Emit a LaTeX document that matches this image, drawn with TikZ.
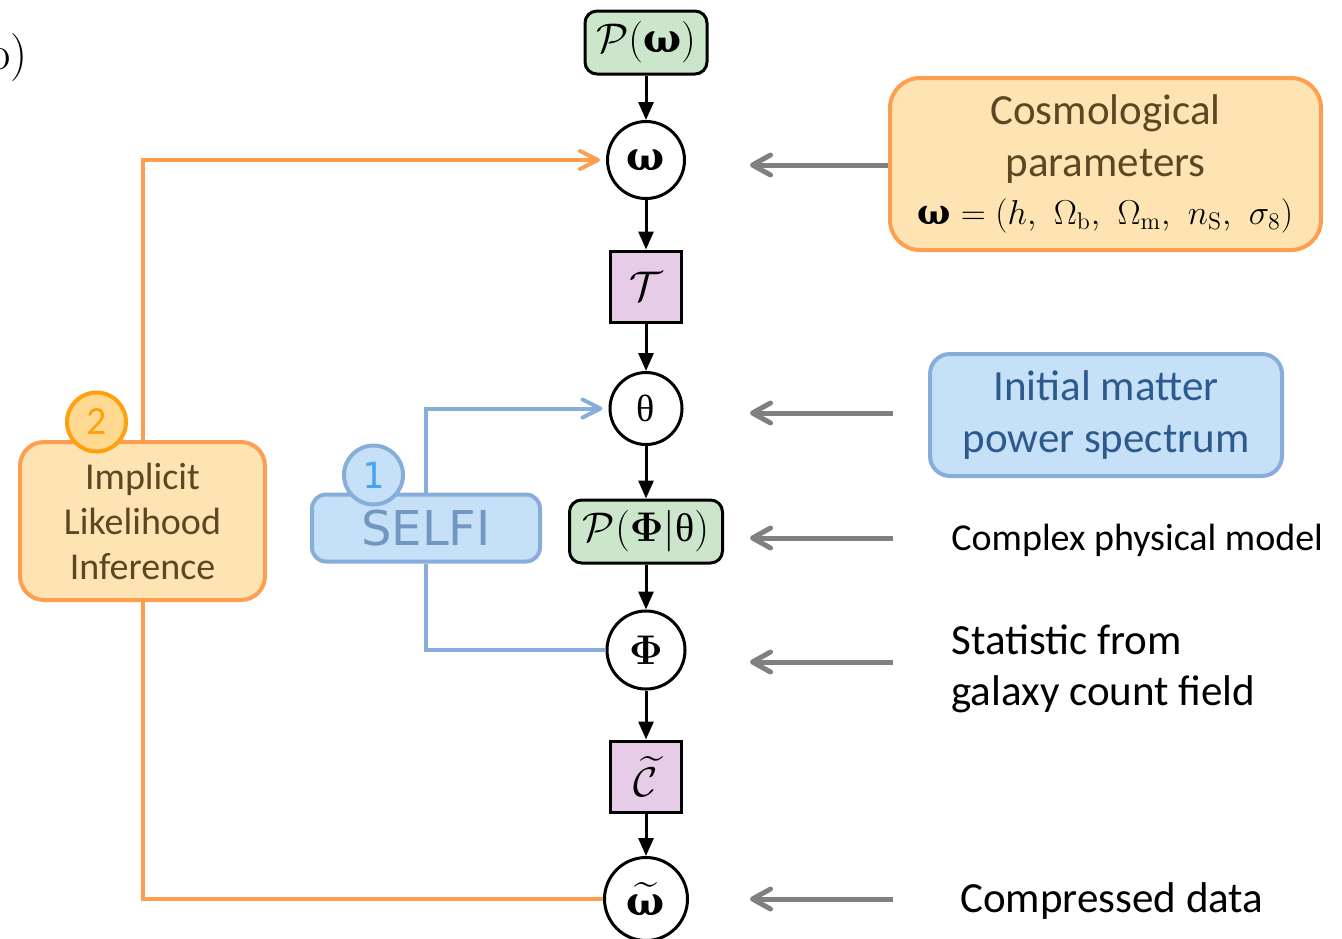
\documentclass[tikz,border=0pt]{standalone}
\usepackage{amsmath}
\usepackage[no-math]{fontspec}
\newfontfamily\cb{Carlito}
\newfontfamily\grk{Liberation Serif}
\newfontfamily\grkb{DejaVu Serif}
\newfontfamily\dvs{DejaVu Sans}
\newfontfamily\dvm{DejaVu Sans Mono}
\usetikzlibrary{arrows.meta,calc}
\newcommand{\bw}{\text{\grkb\bfseries ω}}
\newcommand{\uth}{\text{\grk θ}}
\definecolor{gfill}{HTML}{CBE6CB}
\definecolor{pfill}{HTML}{E6CCE6}
\definecolor{ofill}{HTML}{FEE4B3}
\definecolor{oline}{HTML}{FF9E4F}
\definecolor{odark}{HTML}{FFA010}
\definecolor{ocirc}{HTML}{FFD990}
\definecolor{bfill}{HTML}{C6E0F7}
\definecolor{bline}{HTML}{87AEDB}
\definecolor{btext}{HTML}{2D5A8C}
\definecolor{selfitext}{HTML}{7298C2}
\definecolor{onetext}{HTML}{45A5F2}
\definecolor{browntxt}{HTML}{5B4823}
\definecolor{garrow}{HTML}{808080}
\begin{document}
\begin{tikzpicture}[x=0.5pt,y=-0.5pt,
  circ/.style={circle,draw=black,line width=1.5pt,fill=white,inner sep=0pt,minimum size=#1,font=\fontsize{20}{24}\selectfont},
  sqbox/.style={rectangle,draw=black,line width=1.5pt,fill=pfill,inner sep=0pt,minimum size=35.5pt,font=\fontsize{20}{24}\selectfont},
  gbox/.style={rectangle,rounded corners=6pt,draw=black,line width=1.5pt,fill=gfill,inner sep=0pt,minimum width=#1,minimum height=31.5pt,font=\fontsize{20}{24}\selectfont},
  obox/.style={rectangle,rounded corners=#1,draw=oline,line width=2pt,fill=ofill,text=browntxt,align=center,inner sep=0pt},
  bbox/.style={rectangle,rounded corners=#1,draw=bline,line width=2pt,fill=bfill,align=center,inner sep=0pt},
  blk/.style={line width=1.5pt,-{Triangle[length=9pt,width=7.5pt]}},
  garr/.style={draw=garrow,line width=2.5pt,-{Straight Barb[length=9pt,width=10pt,round]}},
  oarr/.style={draw=oline,line width=2pt,-{Straight Barb[length=9pt,width=9pt,round]},shorten >=3pt},
  barr/.style={draw=bline,line width=2pt,-{Straight Barb[length=9pt,width=9pt,round]},shorten >=3pt},
  plain/.style={anchor=west,inner sep=0pt,align=left}
]
\useasboundingbox (0,0) rectangle (1342,938);

% label
\node[anchor=east,inner sep=0pt,font=\fontsize{24}{28}\selectfont] (lbl) at (28,58) {(b)};

% central chain
\node[gbox=61pt] (pw) at (646,42.5) {$\mathcal{P}(\bw)$};
\node[circ=38.5pt] (w) at (646,160) {$\bw$};
\node[sqbox] (T) at (646,286.5) {$\mathcal{T}$};
\node[circ=36pt,font=\fontsize{19}{22}\selectfont] (th) at (646,408.5) {$\uth$};
\node[gbox=76.5pt] (pphi) at (646,531.5) {$\mathcal{P}(\mathbf{\Phi}|\uth)$};
\node[circ=39pt] (ph) at (646,650) {$\mathbf{\Phi}$};
\node[sqbox] (C) at (646,776.5) {$\widetilde{\mathcal{C}}$};
\node[circ=41.5pt] (wt) at (646,899) {$\widetilde{\bw}$};

\draw[blk] (pw) -- (w);
\draw[blk] (w) -- (T);
\draw[blk] (T) -- (th);
\draw[blk] (th) -- (pphi);
\draw[blk] (pphi) -- (ph);
\draw[blk] (ph) -- (C);
\draw[blk] (C) -- (wt);

% right side
\node[obox=15pt,minimum width=215.5pt,minimum height=86pt,font=\cb\fontsize{21.5}{26}\selectfont] (cosmo) at (1105.5,164)
  {Cosmological\\parameters\\[-2pt]{\color{black}\fontsize{17.5}{21}\selectfont$\bw = (h,\mkern6mu \Omega_{\mathrm{b}},\mkern6mu \Omega_{\mathrm{m}},\mkern6mu n_{\mathrm{S}},\mkern6mu \sigma_8)$}};
\node[bbox=10pt,minimum width=176pt,minimum height=61pt,text=btext,font=\cb\fontsize{21.5}{26}\selectfont] (init) at (1106,415)
  {Initial matter\\power spectrum};
\node[plain,font=\cb\fontsize{19}{22}\selectfont] (cpm) at (951,540) {Complex physical model};
\node[plain,font=\cb\fontsize{21.5}{25.5}\selectfont] (stat) at (951,669) {Statistic from\\galaxy count field};
\node[plain,font=\cb\fontsize{21.5}{24}\selectfont] (cd) at (960,901) {Compressed data};

\coordinate (t1) at (750,165);
\coordinate (s2) at (893,413); \coordinate (t2) at (750,413);
\coordinate (s3) at (893,538); \coordinate (t3) at (750,538);
\coordinate (s4) at (893,662); \coordinate (t4) at (750,662);
\coordinate (s5) at (893,899); \coordinate (t5) at (750,899);
\draw[garr] (cosmo.west |- t1) -- (t1);
\draw[garr] (s2) -- (t2);
\draw[garr] (s3) -- (t3);
\draw[garr] (s4) -- (t4);
\draw[garr] (s5) -- (t5);

% left side
\node[obox=12pt,minimum width=122.5pt,minimum height=79pt,font=\cb\fontsize{19}{22.5}\selectfont] (ili) at (142.5,521)
  {Implicit\\Likelihood\\Inference};
\node[bbox=7pt,minimum width=114pt,minimum height=33.5pt,text=selfitext,font=\dvs\fontsize{24}{28}\selectfont] (selfi) at (426,528) {SELFI};

\draw[oarr] (ili.north) |- (w.west);
\draw[oline,line width=2pt] (ili.south) |- (wt.west);
\draw[barr] (selfi.north) |- (th.west);
\draw[bline,line width=2pt] (selfi.south) |- (ph.west);

\node[circle,draw=odark,line width=2pt,fill=ocirc,text=odark,inner sep=0pt,minimum size=29.5pt,font=\cb\fontsize{20}{24}\selectfont] (two) at (96.5,422) {2};
\node[circle,draw=bline,line width=2pt,fill=bfill,text=onetext,inner sep=0pt,minimum size=29.5pt,font=\dvm\fontsize{18}{20}\selectfont] (one) at (373.5,475) {1};
\end{tikzpicture}
\end{document}
